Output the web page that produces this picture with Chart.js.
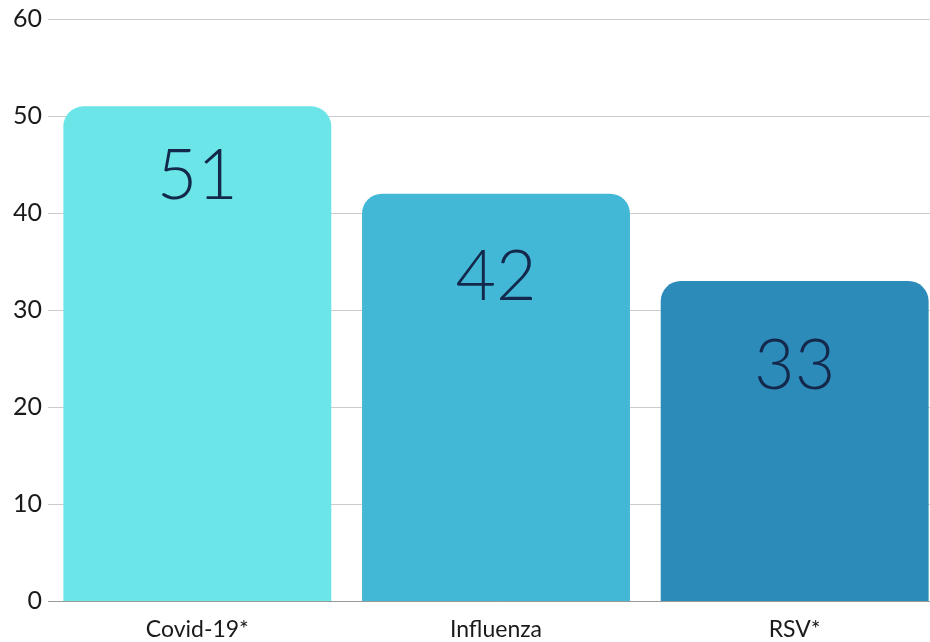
<!DOCTYPE html>
<html>
<head>
<meta charset="utf-8">
<script src="https://cdn.jsdelivr.net/npm/chart.js@4.4.1/dist/chart.umd.min.js"></script>
<style>
  html, body { margin: 0; padding: 0; background: #fff; overflow: hidden; }
  #wrap { width: 930px; height: 642px; overflow: hidden; position: relative; }
  canvas { display: block; }
</style>
</head>
<body>
<div id="wrap">
  <canvas id="chart" width="944" height="676"></canvas>
</div>
<script>
// data
const categories = ['Covid-19*', 'Influenza', 'RSV*'];
const values = [51, 42, 33];
const barColors = ['#6be5e8', '#42b7d6', '#2d8bba'];
const yTicks = [0, 10, 20, 30, 40, 50, 60];

// how far below the bar top each value label sits (px)
const labelOffsets = [70, 84, 85];

const valueLabels = {
    id: 'valueLabels',
    afterDatasetsDraw(chart) {
        const ctx = chart.ctx;
        const meta = chart.getDatasetMeta(0);
        ctx.save();
        ctx.fillStyle = '#14284b';
        ctx.font = '300 70px Lato, "Open Sans", sans-serif';
        ctx.textAlign = 'center';
        ctx.textBaseline = 'middle';
        meta.data.forEach((bar, i) => {
            ctx.fillText(String(values[i]), bar.x, bar.y + labelOffsets[i]);
        });
        ctx.restore();
    }
};

new Chart(document.getElementById('chart'), {
    type: 'bar',
    data: {
        labels: categories,
        datasets: [{
            data: values,
            backgroundColor: barColors,
            borderRadius: { topLeft: 20, topRight: 20 },
            borderSkipped: 'bottom',
            barPercentage: 0.897,
            categoryPercentage: 1.0
        }]
    },
    options: {
        responsive: false,
        animation: false,
        layout: { padding: { top: 19, bottom: 19, left: 7, right: 0 } },
        plugins: { legend: { display: false }, tooltip: { enabled: false } },
        scales: {
            x: {
                grid: { display: false, drawTicks: false },
                border: { display: true, color: '#999', width: 1 },
                ticks: {
                    color: '#1a1a1a',
                    padding: 14,
                    font: { family: 'Lato, "Open Sans", sans-serif', size: 23 }
                }
            },
            y: {
                min: 0,
                max: 60,
                afterBuildTicks(axis) { axis.ticks = yTicks.map(v => ({ value: v })); },
                grid: { color: '#cccccc', lineWidth: 1, drawTicks: false },
                border: { display: false },
                ticks: {
                    color: '#1a1a1a',
                    padding: 6,
                    font: { family: 'Lato, "Open Sans", sans-serif', size: 25, lineHeight: 1 }
                }
            }
        }
    },
    plugins: [valueLabels]
});
</script>
</body>
</html>
